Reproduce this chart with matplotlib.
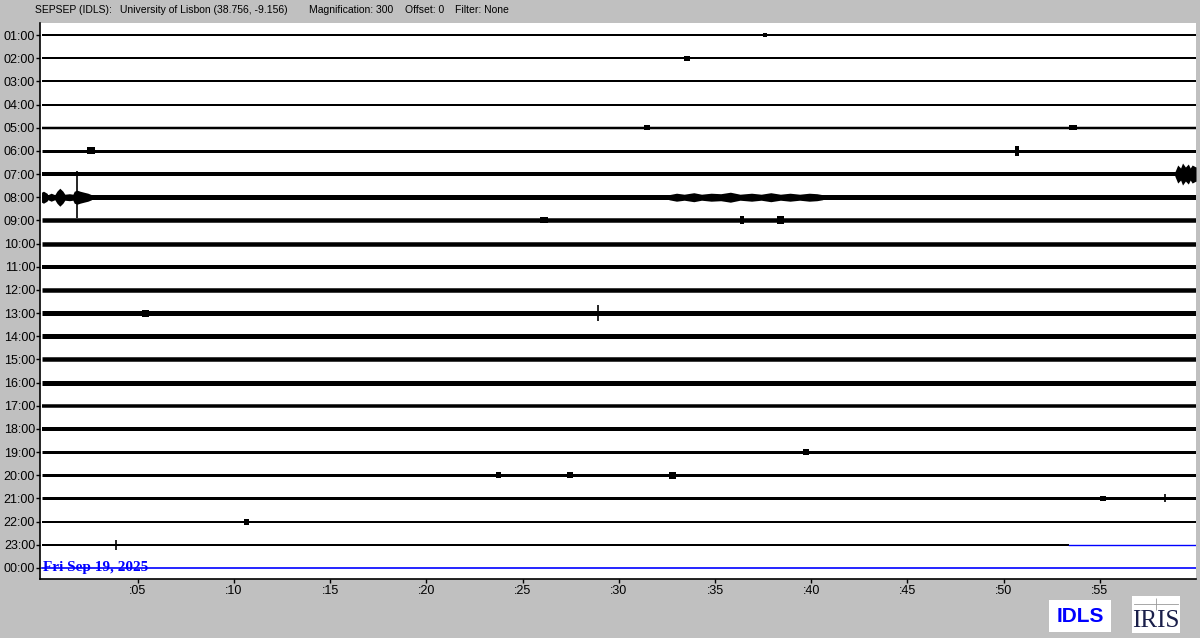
"""
Helicorder plot of station IDLS (University of Lisbon), one trace per hour.
"""
import matplotlib.pyplot as plt

# hour rows, top to bottom
hours = ['01:00', '02:00', '03:00', '04:00', '05:00', '06:00', '07:00', '08:00',
         '09:00', '10:00', '11:00', '12:00', '13:00', '14:00', '15:00', '16:00',
         '17:00', '18:00', '19:00', '20:00', '21:00', '22:00', '23:00', '00:00']

# background noise thickness of each trace (pixels), 01:00 .. 23:00
noise_px = [2, 2, 2, 2, 2.5, 3, 4, 5, 4.5, 4.5, 4, 4.5, 5, 5, 4.5, 5,
            3.5, 4, 3, 3, 3, 2, 2]

# minute where the 23:00 trace stops (rest of the row is the blue cursor line)
last_minute = 53.4

minute_ticks = [5, 10, 15, 20, 25, 30, 35, 40, 45, 50, 55]
minute_labels = [':05', ':10', ':15', ':20', ':25', ':30', ':35', ':40', ':45', ':50', ':55']

# bursts: hour, minutes, half amplitude (px)
bursts = [
    ('07:00', [58.9, 59.05, 59.2, 59.3, 59.45, 59.6, 59.7, 59.8, 60.0],
              [2, 9, 6, 11, 7, 10, 6, 9, 7]),
    ('08:00', [0.0, 0.1, 0.28, 0.33, 0.5, 0.69, 0.8, 0.95, 1.11, 1.21, 1.45,
               1.63, 1.7, 1.85, 2.0, 2.2, 2.41, 2.6],
              [5, 6, 4, 2.5, 4, 2.5, 6, 9, 6, 3, 3.5, 3, 6, 7, 6, 5, 4, 2.5]),
    ('08:00', [32.6, 33.0, 33.4, 33.9, 34.3, 34.8, 35.3, 35.8, 36.3, 36.9, 37.4,
               37.9, 38.4, 38.9, 39.4, 39.9, 40.3, 40.6],
              [2.5, 4, 3, 4.5, 3, 4, 3.5, 5, 3, 4, 3, 4.5, 3, 4, 3, 4, 3.5, 2.5]),
]

# small blobs: hour, start minute, end minute, half amplitude (px)
blobs = [
    ('01:00', 37.5, 37.7, 2),
    ('02:00', 33.4, 33.7, 2.5),
    ('05:00', 31.3, 31.6, 2.5),
    ('05:00', 53.4, 53.8, 2.5),
    ('06:00', 2.35, 2.8, 3.5),
    ('06:00', 50.6, 50.8, 5),
    ('09:00', 25.9, 26.3, 3),
    ('09:00', 36.3, 36.5, 4),
    ('09:00', 38.2, 38.6, 4),
    ('13:00', 5.2, 5.6, 3.5),
    ('19:00', 39.6, 39.9, 3),
    ('20:00', 23.6, 23.9, 3),
    ('20:00', 27.3, 27.6, 3),
    ('20:00', 32.6, 33.0, 3.5),
    ('21:00', 55.0, 55.3, 2.5),
    ('22:00', 10.5, 10.8, 3),
]

# spikes: hour, minute, up (px), down (px)
spikes = [
    ('08:00', 1.85, 26, 21),
    ('13:00', 28.9, 8, 8),
    ('23:00', 3.86, 5, 5),
    ('21:00', 58.4, 4, 4),
]

row_px = 23.17  # pixels between two traces

fig = plt.figure(figsize=(12, 6.38), dpi=100, facecolor='#c0c0c0')
ax = fig.add_axes([40 / 1200, 1 - 579 / 638, 1156 / 1200, 556 / 638])
ax.set_facecolor('white')

# hourly traces
for i, h in enumerate(hours[:-1]):
    end = last_minute if h == '23:00' else 60
    ax.plot([0, end], [i, i], color='black', lw=noise_px[i] * 0.72,
            solid_capstyle='butt')
ax.plot([last_minute, 60], [22, 22], color='#0000ff', lw=1)
ax.plot([0, 60], [23, 23], color='#0000ff', lw=1.2)

for h, mins, amps in bursts:
    r = hours.index(h)
    lo = [r - a / row_px for a in amps]
    hi = [r + a / row_px for a in amps]
    ax.fill_between(mins, lo, hi, color='black', lw=0)

for h, m0, m1, a in blobs:
    r = hours.index(h)
    ax.fill_between([m0, m1], r - a / row_px, r + a / row_px, color='black', lw=0)

for h, m, up, down in spikes:
    r = hours.index(h)
    ax.vlines(m, r - up / row_px, r + down / row_px, color='black', lw=1.2)

ax.set_xlim(-0.08, 60)
ax.set_ylim(23.48, -0.52)

ax.set_yticks(range(len(hours)))
ax.set_yticklabels(hours, family=['Liberation Sans', 'DejaVu Sans'], fontsize=9)
ax.set_xticks(minute_ticks)
ax.set_xticklabels(minute_labels, family=['Liberation Sans', 'DejaVu Sans'], fontsize=9)
ax.tick_params(axis='both', length=3, width=1, color='black')
ax.tick_params(axis='y', pad=0.5)
ax.tick_params(axis='x', pad=1.5)

for s in ['top', 'right']:
    ax.spines[s].set_visible(False)
for s in ['left', 'bottom']:
    ax.spines[s].set_linewidth(1.2)

ax.text(0.05, 23.13, 'Fri Sep 19, 2025', color='#0000ff', fontsize=11,
        fontweight='bold', family=['Liberation Serif', 'DejaVu Serif'], va='baseline')

# header line
hdr = ['Liberation Sans Narrow', 'Liberation Sans', 'DejaVu Sans']
fig.text(35 / 1200, 1 - 10 / 638, 'SEPSEP (IDLS):', fontsize=7.5, family=hdr, va='center')
fig.text(120 / 1200, 1 - 10 / 638, 'University of Lisbon (38.756, -9.156)', fontsize=7.5,
         family=hdr, va='center')
fig.text(309 / 1200, 1 - 10 / 638, 'Magnification: 300', fontsize=7.5, family=hdr, va='center')
fig.text(405 / 1200, 1 - 10 / 638, 'Offset: 0', fontsize=7.5, family=hdr, va='center')
fig.text(455 / 1200, 1 - 10 / 638, 'Filter: None', fontsize=7.5, family=hdr, va='center')

# logos
lg1 = fig.add_axes([1049 / 1200, 1 - 632 / 638, 62 / 1200, 32 / 638])
lg1.set_facecolor('white')
lg1.set_xticks([])
lg1.set_yticks([])
for s in lg1.spines.values():
    s.set_visible(False)
lg1.text(0.5, 0.5, 'IDLS', color='#0000ff', fontsize=15, fontweight='bold',
         family=['Liberation Sans', 'DejaVu Sans'], ha='center', va='center')

lg2 = fig.add_axes([1132 / 1200, 1 - 633 / 638, 48 / 1200, 37 / 638])
lg2.set_facecolor('white')
lg2.set_xticks([])
lg2.set_yticks([])
for s in lg2.spines.values():
    s.set_visible(False)
lg2.set_xlim(0, 1)
lg2.set_ylim(0, 1)
lg2.plot([0.05, 0.95], [0.78, 0.78], color='#999999', lw=0.6)
lg2.vlines(0.5, 0.62, 0.95, color='#999999', lw=0.6)
lg2.text(0.5, 0.02, 'IRIS', color='#1a1f4a', fontsize=18,
         family=['Liberation Serif', 'DejaVu Serif'], ha='center', va='bottom')

fig.savefig('out.png', dpi=100, facecolor=fig.get_facecolor())
